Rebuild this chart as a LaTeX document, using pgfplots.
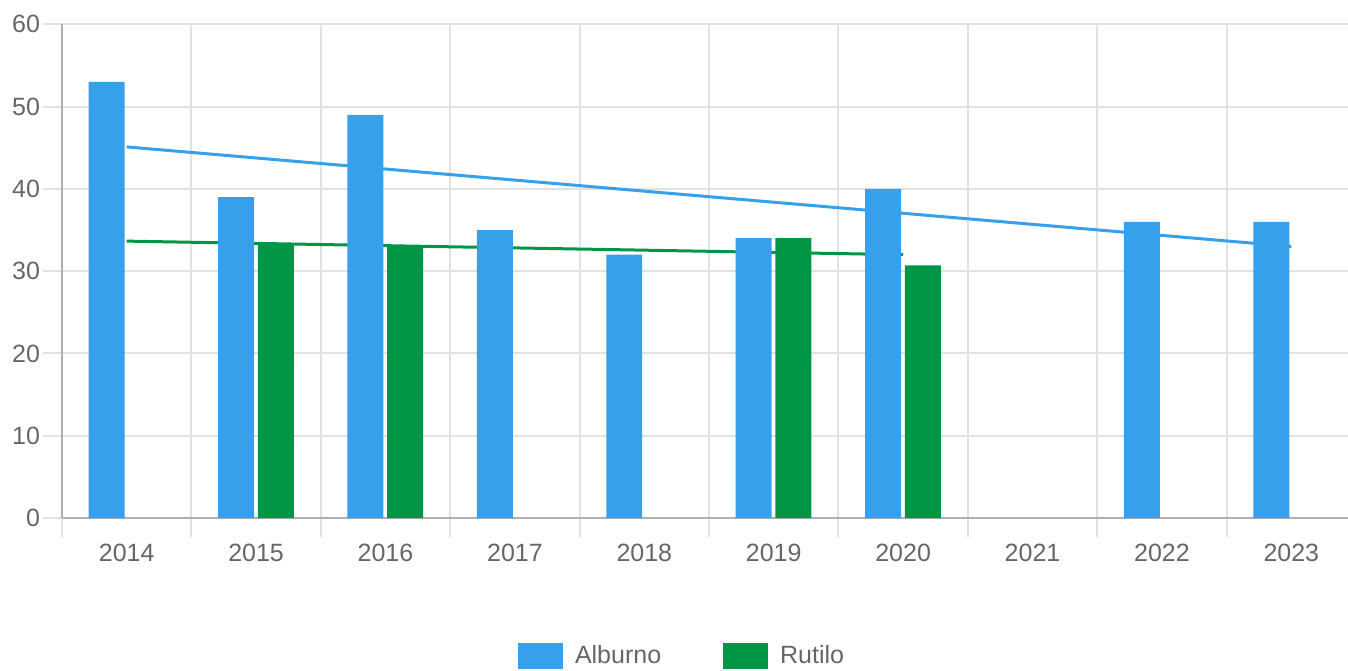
\documentclass[border=0pt]{standalone}
\usepackage{fontspec}
\setmainfont{Liberation Sans}
\usepackage{pgfplots}
\pgfplotsset{compat=1.18}
\definecolor{barblue}{RGB}{54,160,234}
\definecolor{bargreen}{RGB}{0,150,70}
\definecolor{gridcol}{RGB}{226,226,226}
\definecolor{axiscol}{RGB}{176,176,176}
\definecolor{labelcol}{RGB}{102,102,102}
\begin{document}
\begin{tikzpicture}
\useasboundingbox (0,0) rectangle (674pt,335pt);
\begin{axis}[
  at={(31pt,76pt)}, anchor=south west,
  scale only axis, width=647pt, height=246.85pt,
  xmin=-0.5, xmax=9.5, ymin=0, ymax=60,
  axis x line*=bottom, axis y line*=left,
  axis line style={-, draw=axiscol, line width=1pt},
  tick align=outside,
  major tick length=9.5pt,
  xtick={-0.5,0.5,1.5,2.5,3.5,4.5,5.5,6.5,7.5,8.5},
  xticklabels={},
  x tick style={draw=gridcol, line width=1pt},
  xmajorgrids,
  extra x ticks={0,1,2,3,4,5,6,7,8,9},
  extra x tick labels={2014,2015,2016,2017,2018,2019,2020,2021,2022,2023},
  extra x tick style={grid=none, major tick length=0pt, xticklabel style={yshift=-9.5pt}},
  ytick={0,10,...,60},
  y tick style={draw=gridcol, line width=1pt},
  ymajorgrids,
  major grid style={draw=gridcol, line width=1pt},
  yticklabel style={xshift=2pt},
  /pgf/number format/assume math mode=true,
  tick label style={font=\fontsize{12.5}{15}\selectfont, text=labelcol},
  legend style={at={(0.3524,-0.2789)}, anchor=west, draw=none, fill=none,
    inner sep=0pt, outer sep=0pt, column sep=0pt,
    font=\fontsize{12.5}{15}\selectfont, text=labelcol,
    nodes={inner sep=0pt},
    /tikz/every odd column/.append style={column sep=6pt},
    /tikz/every even column/.append style={column sep=31pt}},
  legend columns=2,
  legend image code/.code={\fill[#1] (0pt,-6.5pt) rectangle (22.5pt,6.5pt);},
]
\addplot[barblue, line width=1.5pt, forget plot] coordinates {(0,45.1) (9,33.0)};
\addplot[bargreen, line width=1.5pt, forget plot] coordinates {(0,33.65) (6,32.0)};
\addplot[ybar, bar width=0.278, bar shift=-0.155, fill=barblue, draw=none]
  coordinates {(0,53) (1,39) (2,49) (3,35) (4,32) (5,34) (6,40) (8,36) (9,36)};
\addlegendentry{Alburno}
\addplot[ybar, bar width=0.278, bar shift=0.152, fill=bargreen, draw=none]
  coordinates {(1,33.2) (2,33) (5,34) (6,30.7)};
\addlegendentry{Rutilo}
\end{axis}
\end{tikzpicture}
\end{document}
